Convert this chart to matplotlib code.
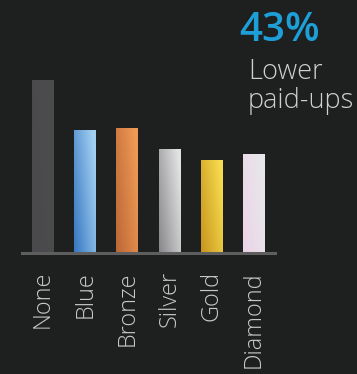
import numpy as np
import matplotlib
matplotlib.use("Agg")
import matplotlib.pyplot as plt
from matplotlib.colors import LinearSegmentedColormap
from matplotlib.patches import Rectangle

# paid-up rate by tier, indexed to None = 100
tiers = ["None", "Blue", "Bronze", "Silver", "Gold", "Diamond"]
paid_up_index = [100, 71, 72, 60, 54, 57]

# (dark corner, light corner) for each bar's gradient
tier_colors = [
    ("#4a4a4c", "#4c4c4e"),
    ("#3677c0", "#a3d0f2"),
    ("#bd6636", "#ee9a55"),
    ("#88888a", "#e2e2e4"),
    ("#c8941e", "#f6dc4e"),
    ("#ecd4e8", "#e8e7ea"),
]

headline = "43%"
subline = ["Lower", "paid-ups"]

BG = "#1e1f1f"
FONT = "Open Sans"

fig = plt.figure(figsize=(3.57, 3.74), dpi=100, facecolor=BG)
ax = fig.add_axes([22 / 357, 1 - 253 / 374, 253 / 357, 173 / 374])
ax.set_facecolor(BG)

x = np.arange(len(tiers))
bars = ax.bar(x, paid_up_index, width=0.52, color="none", zorder=2)

# diagonal gradient fill, dark at bottom-left, light at top-right
u, v = np.meshgrid(np.linspace(0, 1, 40), np.linspace(0, 1, 120))
grad = np.clip(0.7 * u + 0.4 * v, 0, 1)
for bar, (c0, c1) in zip(bars, tier_colors):
    cmap = LinearSegmentedColormap.from_list("g", [c0, c1])
    x0, w, h = bar.get_x(), bar.get_width(), bar.get_height()
    im = ax.imshow(grad, cmap=cmap, origin="lower", aspect="auto",
                   extent=[x0, x0 + w, 0, h], zorder=2, interpolation="bilinear")
    clip = Rectangle((x0, 0), w, h, transform=ax.transData)
    im.set_clip_path(clip)

ax.set_xlim(-0.5, 5.5)
ax.set_ylim(0, 100)

for side in ("top", "right", "left"):
    ax.spines[side].set_visible(False)
ax.spines["bottom"].set_color("#5e5e5e")
ax.spines["bottom"].set_linewidth(2.2)
ax.spines["bottom"].set_zorder(3)

ax.set_yticks([])
ax.set_xticks(x)
ax.set_xticklabels(tiers, rotation=90, family=FONT, fontweight="light",
                   fontsize=16.8, color="#c9c9c9", va="top", ha="center")
ax.tick_params(axis="x", length=0, pad=13)

fig.text(239 / 357, 1 - 41 / 374, headline, family=FONT, fontweight="semibold",
         fontsize=29, color="#1d9fd8", va="baseline", ha="left")
fig.text(248 / 357, 1 - 79 / 374, subline[0], family=FONT, fontweight="light",
         fontsize=19.5, color="#d0d0d0", va="baseline", ha="left")
fig.text(248 / 357, 1 - 108 / 374, subline[1], family=FONT, fontweight="light",
         fontsize=19.5, color="#d0d0d0", va="baseline", ha="left")

fig.savefig("out.png", dpi=100, facecolor=BG)
